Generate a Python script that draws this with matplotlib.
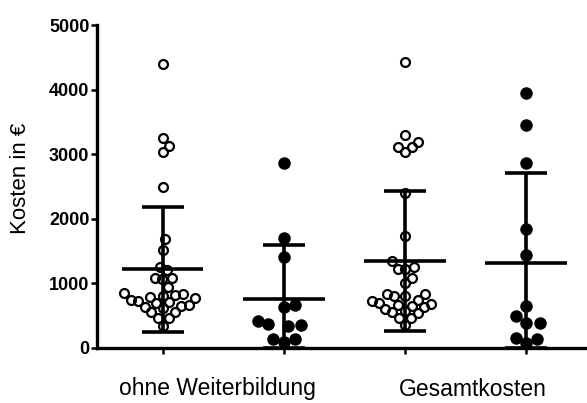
import numpy as np
import matplotlib
matplotlib.use("Agg")
import matplotlib.pyplot as plt

plt.rcParams['font.family'] = ['Liberation Sans', 'DejaVu Sans']

# Kosten in Euro
ohne_wb_offen = [4400, 3250, 3030, 3120, 2500, 1690, 1520, 1210, 1260, 1090, 1070, 1090, 950,
                 850, 840, 820, 810, 790, 770, 750, 730, 710, 690, 670, 650, 640, 620,
                 550, 560, 470, 460, 340]
ohne_wb_voll = [2858, 1698, 1414, 666, 630, 356, 423, 372, 341, 134, 98, 134]
gesamt_offen = [4430, 3290, 3110, 3030, 3110, 3190, 2400, 1730, 1340, 1260, 1220, 1230, 1090, 1010,
                810, 830, 830, 810, 740, 720, 700, 680, 660, 650, 630, 600, 580,
                540, 550, 470, 470, 360]
gesamt_voll = [3952, 3452, 2858, 1837, 1440, 650, 382, 382, 495, 160, 82, 135]

groups = [ohne_wb_offen, ohne_wb_voll, gesamt_offen, gesamt_voll]
filled = [False, True, False, True]
group_labels = ["ohne Weiterbildung", "Gesamtkosten"]
yticks = [0, 1000, 2000, 3000, 4000, 5000]


def swarm(vals, diam, px_y, px_x):
	# simple beeswarm, works in pixels
	vals = np.asarray(vals, float)
	order = np.argsort(vals)
	placed = []
	offs = np.zeros(len(vals))
	for i in order:
		y = vals[i] * px_y
		cands = [0.0]
		for (px, py) in placed:
			dy = y - py
			if abs(dy) < diam:
				dx = np.sqrt(diam**2 - dy**2)
				cands += [px + dx, px - dx]
		cands.sort(key=abs)
		for c in cands:
			if all((c - px)**2 + (y - py)**2 >= diam**2 - 1e-6 for px, py in placed):
				break
		placed.append((c, y))
		offs[i] = c / px_x
	return offs


fig = plt.figure(figsize=(5.87, 4.03), dpi=100)
ax = fig.add_axes([97/587, 55/403, 490/587, 323/403])

px_x = 121.0          # pixels per group
px_y = 323.0 / 5000   # pixels per euro
squash = 0.65         # spread points a bit more, like prism does

for k, vals in enumerate(groups):
	offs = swarm(vals, 7.5 if not filled[k] else 11.0, px_y * squash, px_x)
	xs = k + offs
	if filled[k]:
		ax.plot(xs, vals, 'o', color='black', markersize=9, markeredgewidth=0, zorder=2)
	else:
		ax.plot(xs, vals, 'o', markerfacecolor='none', markeredgecolor='black',
				markersize=6.4, markeredgewidth=1.6, zorder=2)
	m = np.mean(vals)
	sd = np.std(vals, ddof=1)
	lo = max(m - sd, 0)
	hi = m + sd
	ax.plot([k, k], [lo, hi], color='black', lw=2.6, zorder=3, solid_capstyle='butt')
	ax.plot([k - 0.335, k + 0.335], [m, m], color='black', lw=2.6, zorder=3, solid_capstyle='butt')
	ax.plot([k - 0.17, k + 0.17], [hi, hi], color='black', lw=2.6, zorder=3, solid_capstyle='butt')
	ax.plot([k - 0.17, k + 0.17], [lo, lo], color='black', lw=2.6, zorder=3, solid_capstyle='butt')

ax.set_xlim(-0.545, 3.504)
ax.set_ylim(0, 5000)
ax.set_yticks(yticks)
ax.set_yticklabels([str(t) for t in yticks], fontsize=13, fontweight='bold')
ax.set_xticks(range(4))
ax.set_xticklabels([])

for s in ['top', 'right']:
	ax.spines[s].set_visible(False)
ax.spines['left'].set_linewidth(2.4)
ax.spines['bottom'].set_linewidth(2.4)
ax.tick_params(axis='y', length=4, width=1.8, pad=1.5)
ax.tick_params(axis='x', length=4, width=1.8)

fig.text(217/587, 1 - 389/403, group_labels[0], fontsize=16.5, ha='center', va='center')
fig.text(473/587, 1 - 389/403, group_labels[1], fontsize=16.5, ha='center', va='center')
fig.text(21/587, 1 - 178/403, "Kosten in €", fontsize=16, rotation=90, ha='center', va='center')

fig.savefig("out.png", dpi=100)
